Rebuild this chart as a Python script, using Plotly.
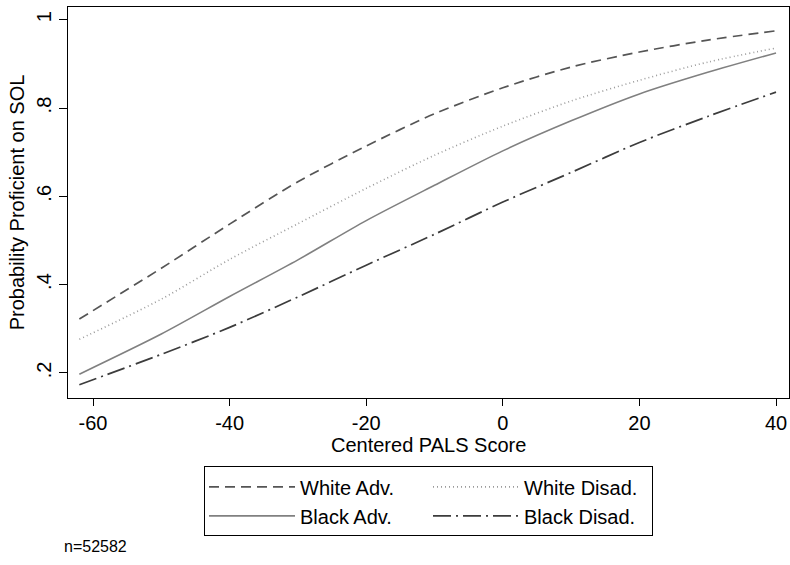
import plotly.graph_objects as go

# Centered PALS score grid and predicted probability of SOL proficiency
pals = [-62, -50, -40, -30, -20, -10, 0, 10, 20, 30, 40]
white_adv = [0.322, 0.437, 0.537, 0.633, 0.714, 0.787, 0.846, 0.893, 0.927, 0.954, 0.975]
white_disad = [0.276, 0.367, 0.457, 0.538, 0.618, 0.693, 0.759, 0.816, 0.863, 0.904, 0.936]
black_adv = [0.197, 0.288, 0.373, 0.456, 0.545, 0.625, 0.703, 0.771, 0.832, 0.881, 0.925]
black_disad = [0.173, 0.242, 0.303, 0.372, 0.444, 0.514, 0.587, 0.654, 0.722, 0.781, 0.836]

x_ticks = [-60, -40, -20, 0, 20, 40]
y_ticks = [0.2, 0.4, 0.6, 0.8, 1.0]
y_tick_text = [".2", ".4", ".6", ".8", "1"]

FONT = "Liberation Sans, Arial, Helvetica, sans-serif"
FS = 20

series = [
    ("White Adv.", white_adv, dict(color="#555555", width=1.7, dash="10px,6px"), "adv"),
    ("White Disad.", white_disad, dict(color="#9a9a9a", width=1.6, dash="1px,3px"), "disad"),
    ("Black Adv.", black_adv, dict(color="#808080", width=1.6, dash="solid"), "adv"),
    ("Black Disad.", black_disad, dict(color="#3c3c3c", width=1.7, dash="18px,5px,2px,5px"), "disad"),
]

fig = go.Figure()
for name, vals, line, grp in series:
    fig.add_trace(go.Scatter(
        x=pals, y=vals, mode="lines", name=name, legendgroup=grp,
        line=dict(shape="spline", smoothing=0.8, **line),
        hoverinfo="skip",
    ))

fig.update_layout(
    width=790, height=565,
    margin=dict(l=68, r=1, t=7, b=167),
    paper_bgcolor="white", plot_bgcolor="white",
    font=dict(family=FONT, size=FS, color="black"),
    showlegend=True,
    legend=dict(
        orientation="h", traceorder="grouped",
        x=0.5, xanchor="center", y=-0.175, yanchor="top",
        bordercolor="black", borderwidth=1, bgcolor="white",
        font=dict(family=FONT, size=FS, color="black"),
        itemwidth=86, entrywidth=123, entrywidthmode="pixels",
    ),
    xaxis=dict(
        range=[-63.66, 41.9], tickvals=x_ticks, ticktext=[str(v) for v in x_ticks],
        showgrid=False, zeroline=False, showline=True, linecolor="black", linewidth=1,
        mirror=True, ticks="outside", ticklen=7, tickcolor="black",
        tickfont=dict(size=FS),
    ),
    yaxis=dict(
        range=[0.143, 1.029], tickvals=y_ticks, ticktext=y_tick_text, tickangle=-90,
        showgrid=False, zeroline=False, showline=True, linecolor="black", linewidth=1,
        mirror=True, ticks="outside", ticklen=8, tickcolor="black",
        tickfont=dict(size=FS),
        title=dict(text="Probability Proficient on SOL", font=dict(size=FS), standoff=3),
    ),
    annotations=[
        dict(
            text="Centered PALS Score", xref="paper", yref="paper", x=0.5, y=-0.12,
            xanchor="center", yanchor="middle", showarrow=False,
            font=dict(family=FONT, size=FS, color="black"),
        ),
        dict(
            text="n=52582", xref="paper", yref="paper", x=-0.0083, y=-0.381,
            xanchor="left", yanchor="middle", showarrow=False,
            font=dict(family=FONT, size=16, color="black"),
        ),
    ],
)

fig.write_html("out.html")
